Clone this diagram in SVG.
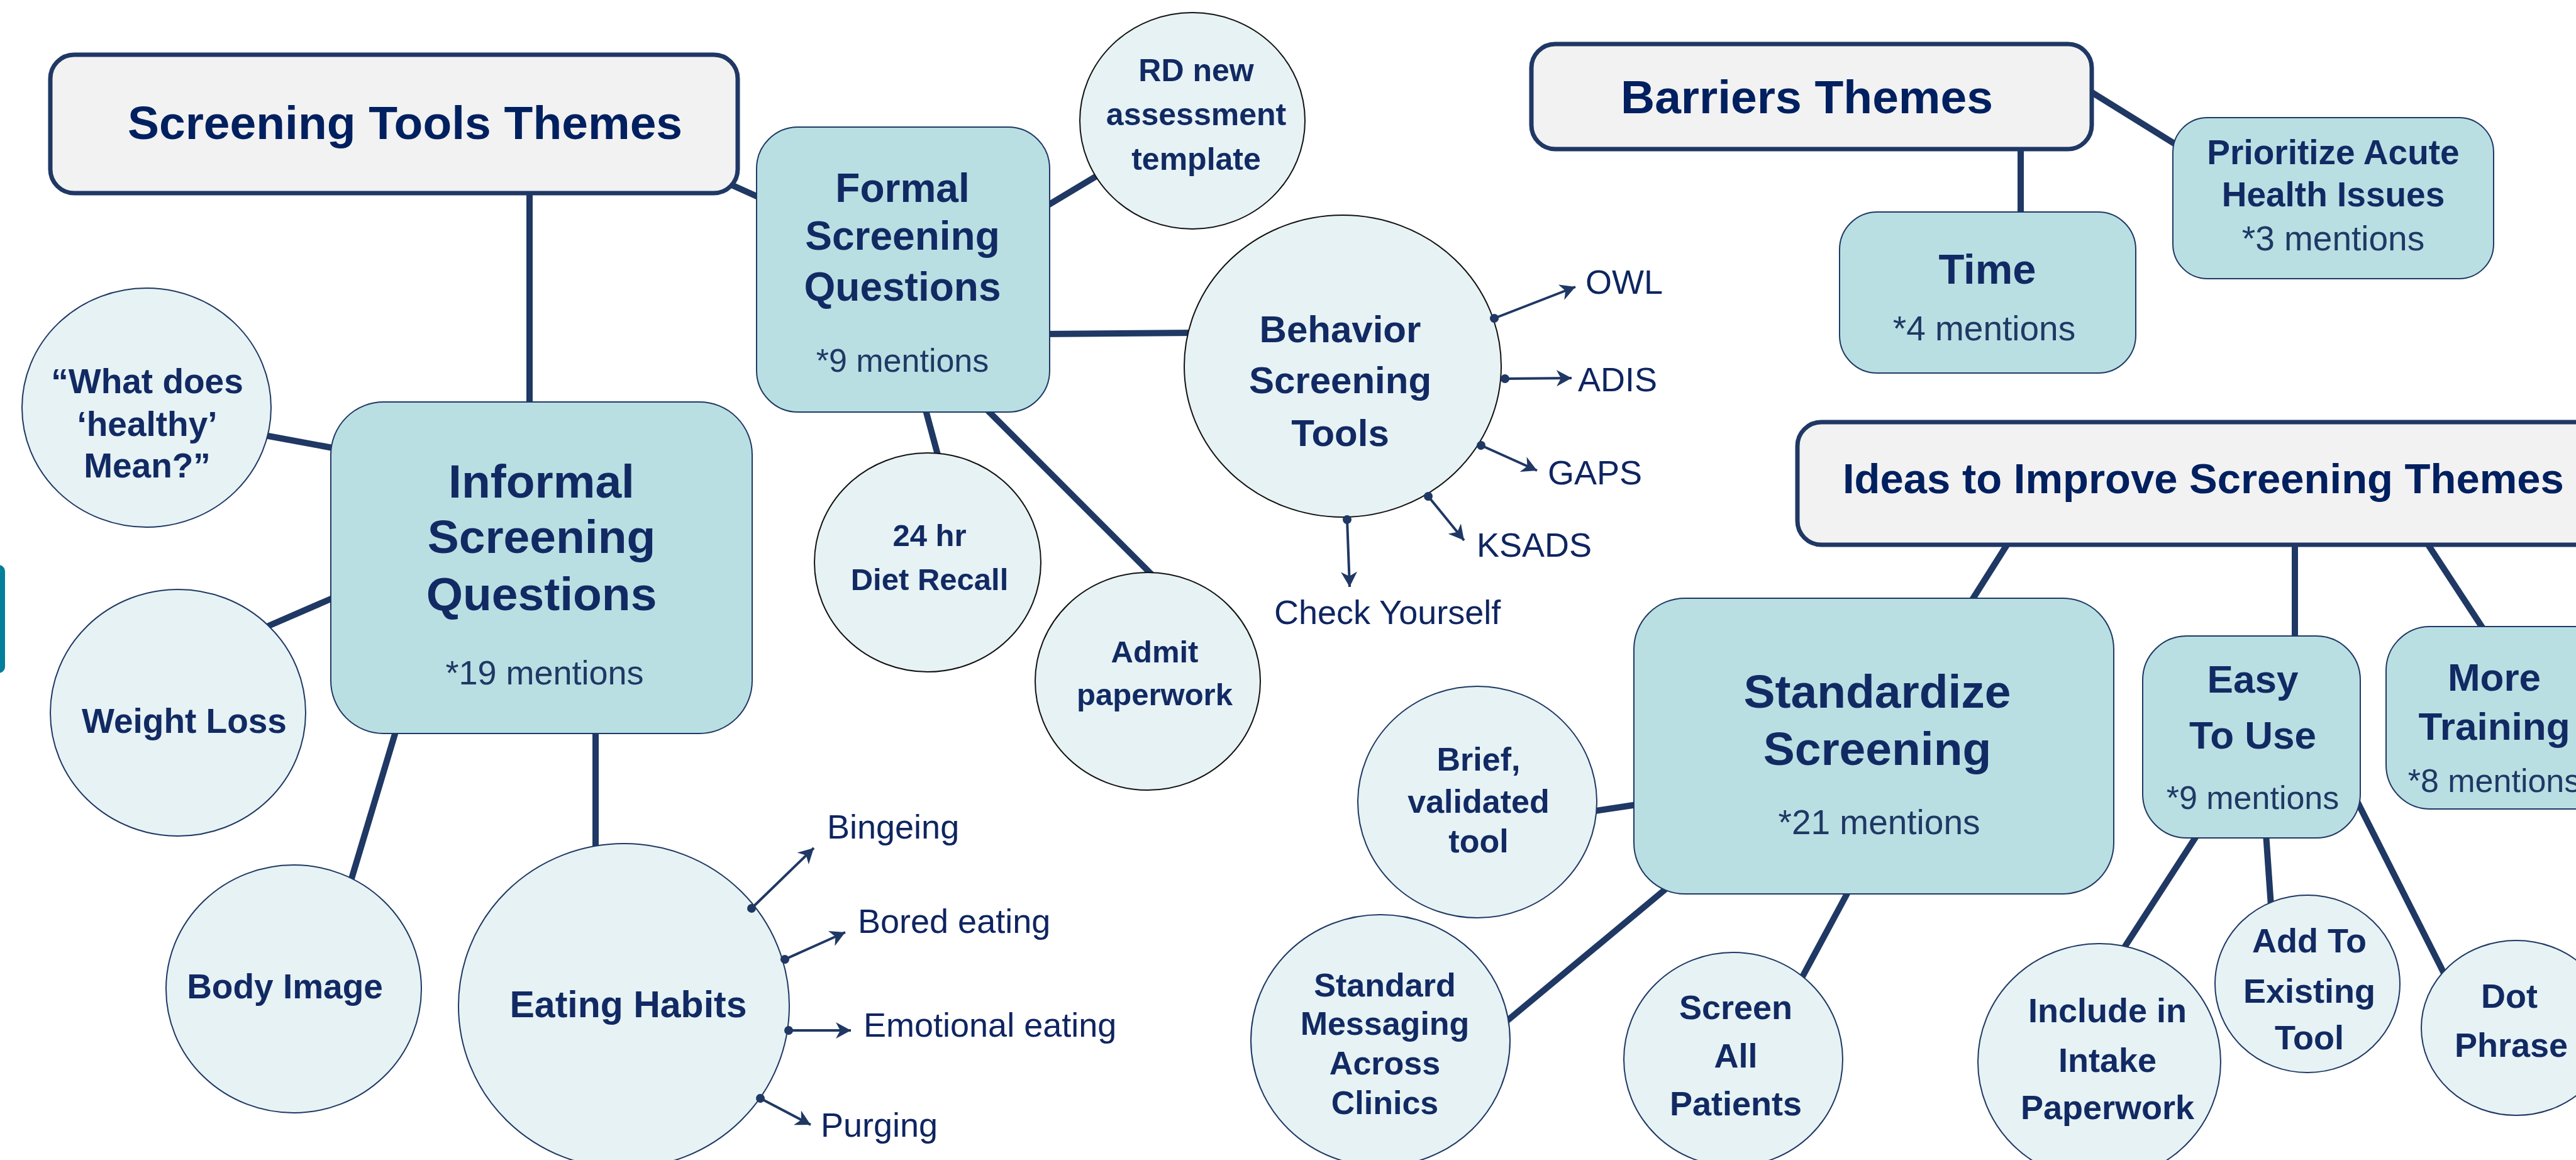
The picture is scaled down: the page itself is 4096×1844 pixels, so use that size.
<svg xmlns="http://www.w3.org/2000/svg" width="4096" height="1844" viewBox="0 0 4096 1844">
<defs>
<style>
.tb{fill:#F2F2F2;stroke:#1F3864;stroke-width:7}
.tl{fill:#B9DFE3;stroke:#1F3864;stroke-width:2}
.ci{fill:#E6F2F4;stroke:#1F3864;stroke-width:2}
.cb{fill:#E6F2F4;stroke:#111111;stroke-width:2}
.conn line,.conn path{stroke:#1F3864;stroke-width:10;fill:none}
.arr{stroke:#1F3864;stroke-width:4;fill:none;marker-start:url(#dot);marker-end:url(#ah)}
text{font-family:"Liberation Sans",Arial,sans-serif;text-anchor:middle}
.title{font-weight:bold;font-size:75px;fill:#002060}
.b{font-weight:bold;fill:#122A63}
.m{fill:#1F3864}
.lbl{font-size:54px;fill:#0F2561;text-anchor:start}
</style>
<marker id="ah" markerUnits="userSpaceOnUse" markerWidth="28" markerHeight="26" refX="24" refY="13" orient="auto">
<path d="M0,0 L24,13 L0,26 L7,13 Z" fill="#1F3864"/>
</marker>
<marker id="dot" markerUnits="userSpaceOnUse" markerWidth="16" markerHeight="16" refX="8" refY="8" orient="auto">
<circle cx="8" cy="8" r="7" fill="#1F3864"/>
</marker>
</defs>
<rect width="4096" height="1844" fill="#FFFFFF"/>

<g id="connectors" class="conn">
<line x1="842" y1="300" x2="842" y2="645"/>
<line x1="1150" y1="288" x2="1232" y2="325"/>
<line x1="1660" y1="330" x2="1750" y2="276"/>
<line x1="1660" y1="531" x2="1900" y2="529"/>
<line x1="1470" y1="645" x2="1493" y2="730"/>
<line x1="1563" y1="645" x2="1835" y2="917"/>
<line x1="410" y1="690" x2="540" y2="714"/>
<line x1="420" y1="998" x2="540" y2="946"/>
<line x1="630" y1="1160" x2="555" y2="1410"/>
<line x1="947" y1="1160" x2="947" y2="1350"/>
<line x1="3213" y1="230" x2="3213" y2="345"/>
<line x1="3320" y1="143" x2="3465" y2="233"/>
<line x1="3195" y1="860" x2="3133" y2="958"/>
<line x1="3649" y1="860" x2="3649" y2="1015"/>
<line x1="3857" y1="860" x2="3950" y2="1002"/>
<line x1="2530" y1="1290" x2="2610" y2="1278"/>
<line x1="2390" y1="1628" x2="2656" y2="1407"/>
<line x1="2940" y1="1415" x2="2862" y2="1560"/>
<line x1="3495" y1="1325" x2="3374" y2="1512"/>
<line x1="3603" y1="1325" x2="3611" y2="1440"/>
<line x1="3742" y1="1262" x2="3890" y2="1555"/>
</g>

<rect id="edge-fragment" x="-40" y="898" width="48" height="172" rx="10" fill="#037E9B"/>

<g id="screening-tools-themes">
<rect class="tb" x="80" y="87" width="1093" height="220" rx="38"/>
<text class="title" x="644" y="221">Screening Tools Themes</text>
</g>

<g id="formal-screening">
<rect class="tl" x="1203" y="202" width="466" height="453" rx="66"/>
<text class="b" font-size="64" x="1435" y="321">Formal</text>
<text class="b" font-size="64" x="1435" y="397">Screening</text>
<text class="b" font-size="64" x="1435" y="478">Questions</text>
<text class="m" font-size="52" x="1435" y="591">*9 mentions</text>
</g>

<g id="informal-screening">
<rect class="tl" x="526" y="639" width="670" height="527" rx="84"/>
<text class="b" font-size="75" x="861" y="791">Informal</text>
<text class="b" font-size="75" x="861" y="879">Screening</text>
<text class="b" font-size="75" x="861" y="970">Questions</text>
<text class="m" font-size="54" x="866" y="1088">*19 mentions</text>
</g>

<g id="what-does-healthy-mean">
<ellipse class="ci" cx="233" cy="648" rx="198" ry="190"/>
<text class="b" font-size="55" x="234" y="625">“What does</text>
<text class="b" font-size="55" x="234" y="693">‘healthy’</text>
<text class="b" font-size="55" x="234" y="759">Mean?”</text>
</g>

<g id="weight-loss">
<ellipse class="ci" cx="283" cy="1133" rx="203" ry="196"/>
<text class="b" font-size="55" x="293" y="1165">Weight Loss</text>
</g>

<g id="body-image">
<ellipse class="ci" cx="467" cy="1572" rx="203" ry="197"/>
<text class="b" font-size="55" x="453" y="1587">Body Image</text>
</g>

<g id="eating-habits">
<ellipse class="ci" cx="992" cy="1599" rx="263" ry="258"/>
<text class="b" font-size="59" x="999" y="1617">Eating Habits</text>
</g>

<g id="eating-habits-items">
<line class="arr" x1="1195" y1="1444" x2="1294" y2="1348"/>
<line class="arr" x1="1248" y1="1525" x2="1344" y2="1482"/>
<line class="arr" x1="1254" y1="1638" x2="1353" y2="1638"/>
<line class="arr" x1="1209" y1="1746" x2="1289" y2="1788"/>
<text class="lbl" x="1315" y="1333">Bingeing</text>
<text class="lbl" x="1364" y="1483">Bored eating</text>
<text class="lbl" x="1373" y="1648">Emotional eating</text>
<text class="lbl" x="1305" y="1807">Purging</text>
</g>

<g id="rd-template">
<ellipse class="cb" cx="1896" cy="192" rx="179" ry="172"/>
<text class="b" font-size="50" x="1902" y="129">RD new</text>
<text class="b" font-size="50" x="1902" y="199">assessment</text>
<text class="b" font-size="50" x="1902" y="270">template</text>
</g>

<g id="behavior-screening-tools">
<ellipse class="cb" cx="2135" cy="582" rx="252" ry="240"/>
<text class="b" font-size="60" x="2131" y="544">Behavior</text>
<text class="b" font-size="60" x="2131" y="625">Screening</text>
<text class="b" font-size="60" x="2131" y="709">Tools</text>
</g>

<g id="behavior-tools-items">
<line class="arr" x1="2376" y1="506" x2="2505" y2="456"/>
<line class="arr" x1="2393" y1="602" x2="2499" y2="601"/>
<line class="arr" x1="2355" y1="708" x2="2444" y2="748"/>
<line class="arr" x1="2271" y1="789" x2="2328" y2="859"/>
<line class="arr" x1="2142" y1="826" x2="2146" y2="933"/>
<text class="lbl" x="2521" y="467">OWL</text>
<text class="lbl" x="2509" y="622">ADIS</text>
<text class="lbl" x="2461" y="770">GAPS</text>
<text class="lbl" x="2348" y="885">KSADS</text>
<text class="lbl" x="2026" y="992">Check Yourself</text>
</g>

<g id="diet-recall">
<ellipse class="cb" cx="1475" cy="894" rx="180" ry="174"/>
<text class="b" font-size="49" x="1478" y="868">24 hr</text>
<text class="b" font-size="49" x="1478" y="938">Diet Recall</text>
</g>

<g id="admit-paperwork">
<ellipse class="cb" cx="1825" cy="1083" rx="179" ry="173"/>
<text class="b" font-size="49" x="1836" y="1053">Admit</text>
<text class="b" font-size="49" x="1836" y="1121">paperwork</text>
</g>

<g id="barriers-themes">
<rect class="tb" x="2435" y="70" width="891" height="167" rx="38"/>
<text class="title" x="2873" y="180">Barriers Themes</text>
</g>

<g id="time">
<rect class="tl" x="2925" y="337" width="471" height="256" rx="60"/>
<text class="b" font-size="67" x="3160" y="451">Time</text>
<text class="m" font-size="55" x="3155" y="541">*4 mentions</text>
</g>

<g id="prioritize-acute">
<rect class="tl" x="3455" y="187" width="510" height="256" rx="55"/>
<text class="b" font-size="55" x="3710" y="261">Prioritize Acute</text>
<text class="b" font-size="55" x="3710" y="328">Health Issues</text>
<text class="m" font-size="55" x="3710" y="398">*3 mentions</text>
</g>

<g id="ideas-themes">
<rect class="tb" x="2858" y="671" width="1300" height="195" rx="38"/>
<text class="title" x="2930" y="784" style="text-anchor:start;font-size:67px">Ideas to Improve Screening Themes</text>
</g>

<g id="standardize-screening">
<rect class="tl" x="2598" y="951" width="763" height="470" rx="81"/>
<text class="b" font-size="75" x="2985" y="1125">Standardize</text>
<text class="b" font-size="75" x="2985" y="1216">Screening</text>
<text class="m" font-size="55" x="2988" y="1326">*21 mentions</text>
</g>

<g id="brief-validated-tool">
<ellipse class="ci" cx="2349" cy="1275" rx="190" ry="184"/>
<text class="b" font-size="52" x="2351" y="1225">Brief,</text>
<text class="b" font-size="52" x="2351" y="1292">validated</text>
<text class="b" font-size="52" x="2351" y="1355">tool</text>
</g>

<g id="standard-messaging">
<ellipse class="ci" cx="2195" cy="1654" rx="206" ry="200"/>
<text class="b" font-size="52" x="2202" y="1584">Standard</text>
<text class="b" font-size="52" x="2202" y="1645">Messaging</text>
<text class="b" font-size="52" x="2202" y="1708">Across</text>
<text class="b" font-size="52" x="2202" y="1771">Clinics</text>
</g>

<g id="screen-all-patients">
<ellipse class="ci" cx="2756" cy="1684" rx="174" ry="170"/>
<text class="b" font-size="54" x="2760" y="1620">Screen</text>
<text class="b" font-size="54" x="2760" y="1697">All</text>
<text class="b" font-size="54" x="2760" y="1773">Patients</text>
</g>

<g id="easy-to-use">
<rect class="tl" x="3407" y="1011" width="346" height="321" rx="70"/>
<text class="b" font-size="62" x="3582" y="1101">Easy</text>
<text class="b" font-size="62" x="3582" y="1190">To Use</text>
<text class="m" font-size="52" x="3582" y="1286">*9 mentions</text>
</g>

<g id="more-training">
<rect class="tl" x="3794" y="996" width="400" height="290" rx="70"/>
<text class="b" font-size="62" x="3966" y="1098">More</text>
<text class="b" font-size="62" x="3966" y="1176">Training</text>
<text class="m" font-size="52" x="3966" y="1259">*8 mentions</text>
</g>

<g id="include-in-intake">
<ellipse class="ci" cx="3338" cy="1688" rx="193" ry="188"/>
<text class="b" font-size="54" x="3351" y="1625">Include in</text>
<text class="b" font-size="54" x="3351" y="1704">Intake</text>
<text class="b" font-size="54" x="3351" y="1779">Paperwork</text>
</g>

<g id="add-to-existing-tool">
<ellipse class="ci" cx="3669" cy="1564" rx="147" ry="141"/>
<text class="b" font-size="54" x="3672" y="1514">Add To</text>
<text class="b" font-size="54" x="3672" y="1594">Existing</text>
<text class="b" font-size="54" x="3672" y="1668">Tool</text>
</g>

<g id="dot-phrase">
<ellipse class="ci" cx="4001" cy="1634" rx="151" ry="139"/>
<text class="b" font-size="54" x="3990" y="1602">Dot</text>
<text class="b" font-size="54" x="3993" y="1680">Phrase</text>
</g>
</svg>
